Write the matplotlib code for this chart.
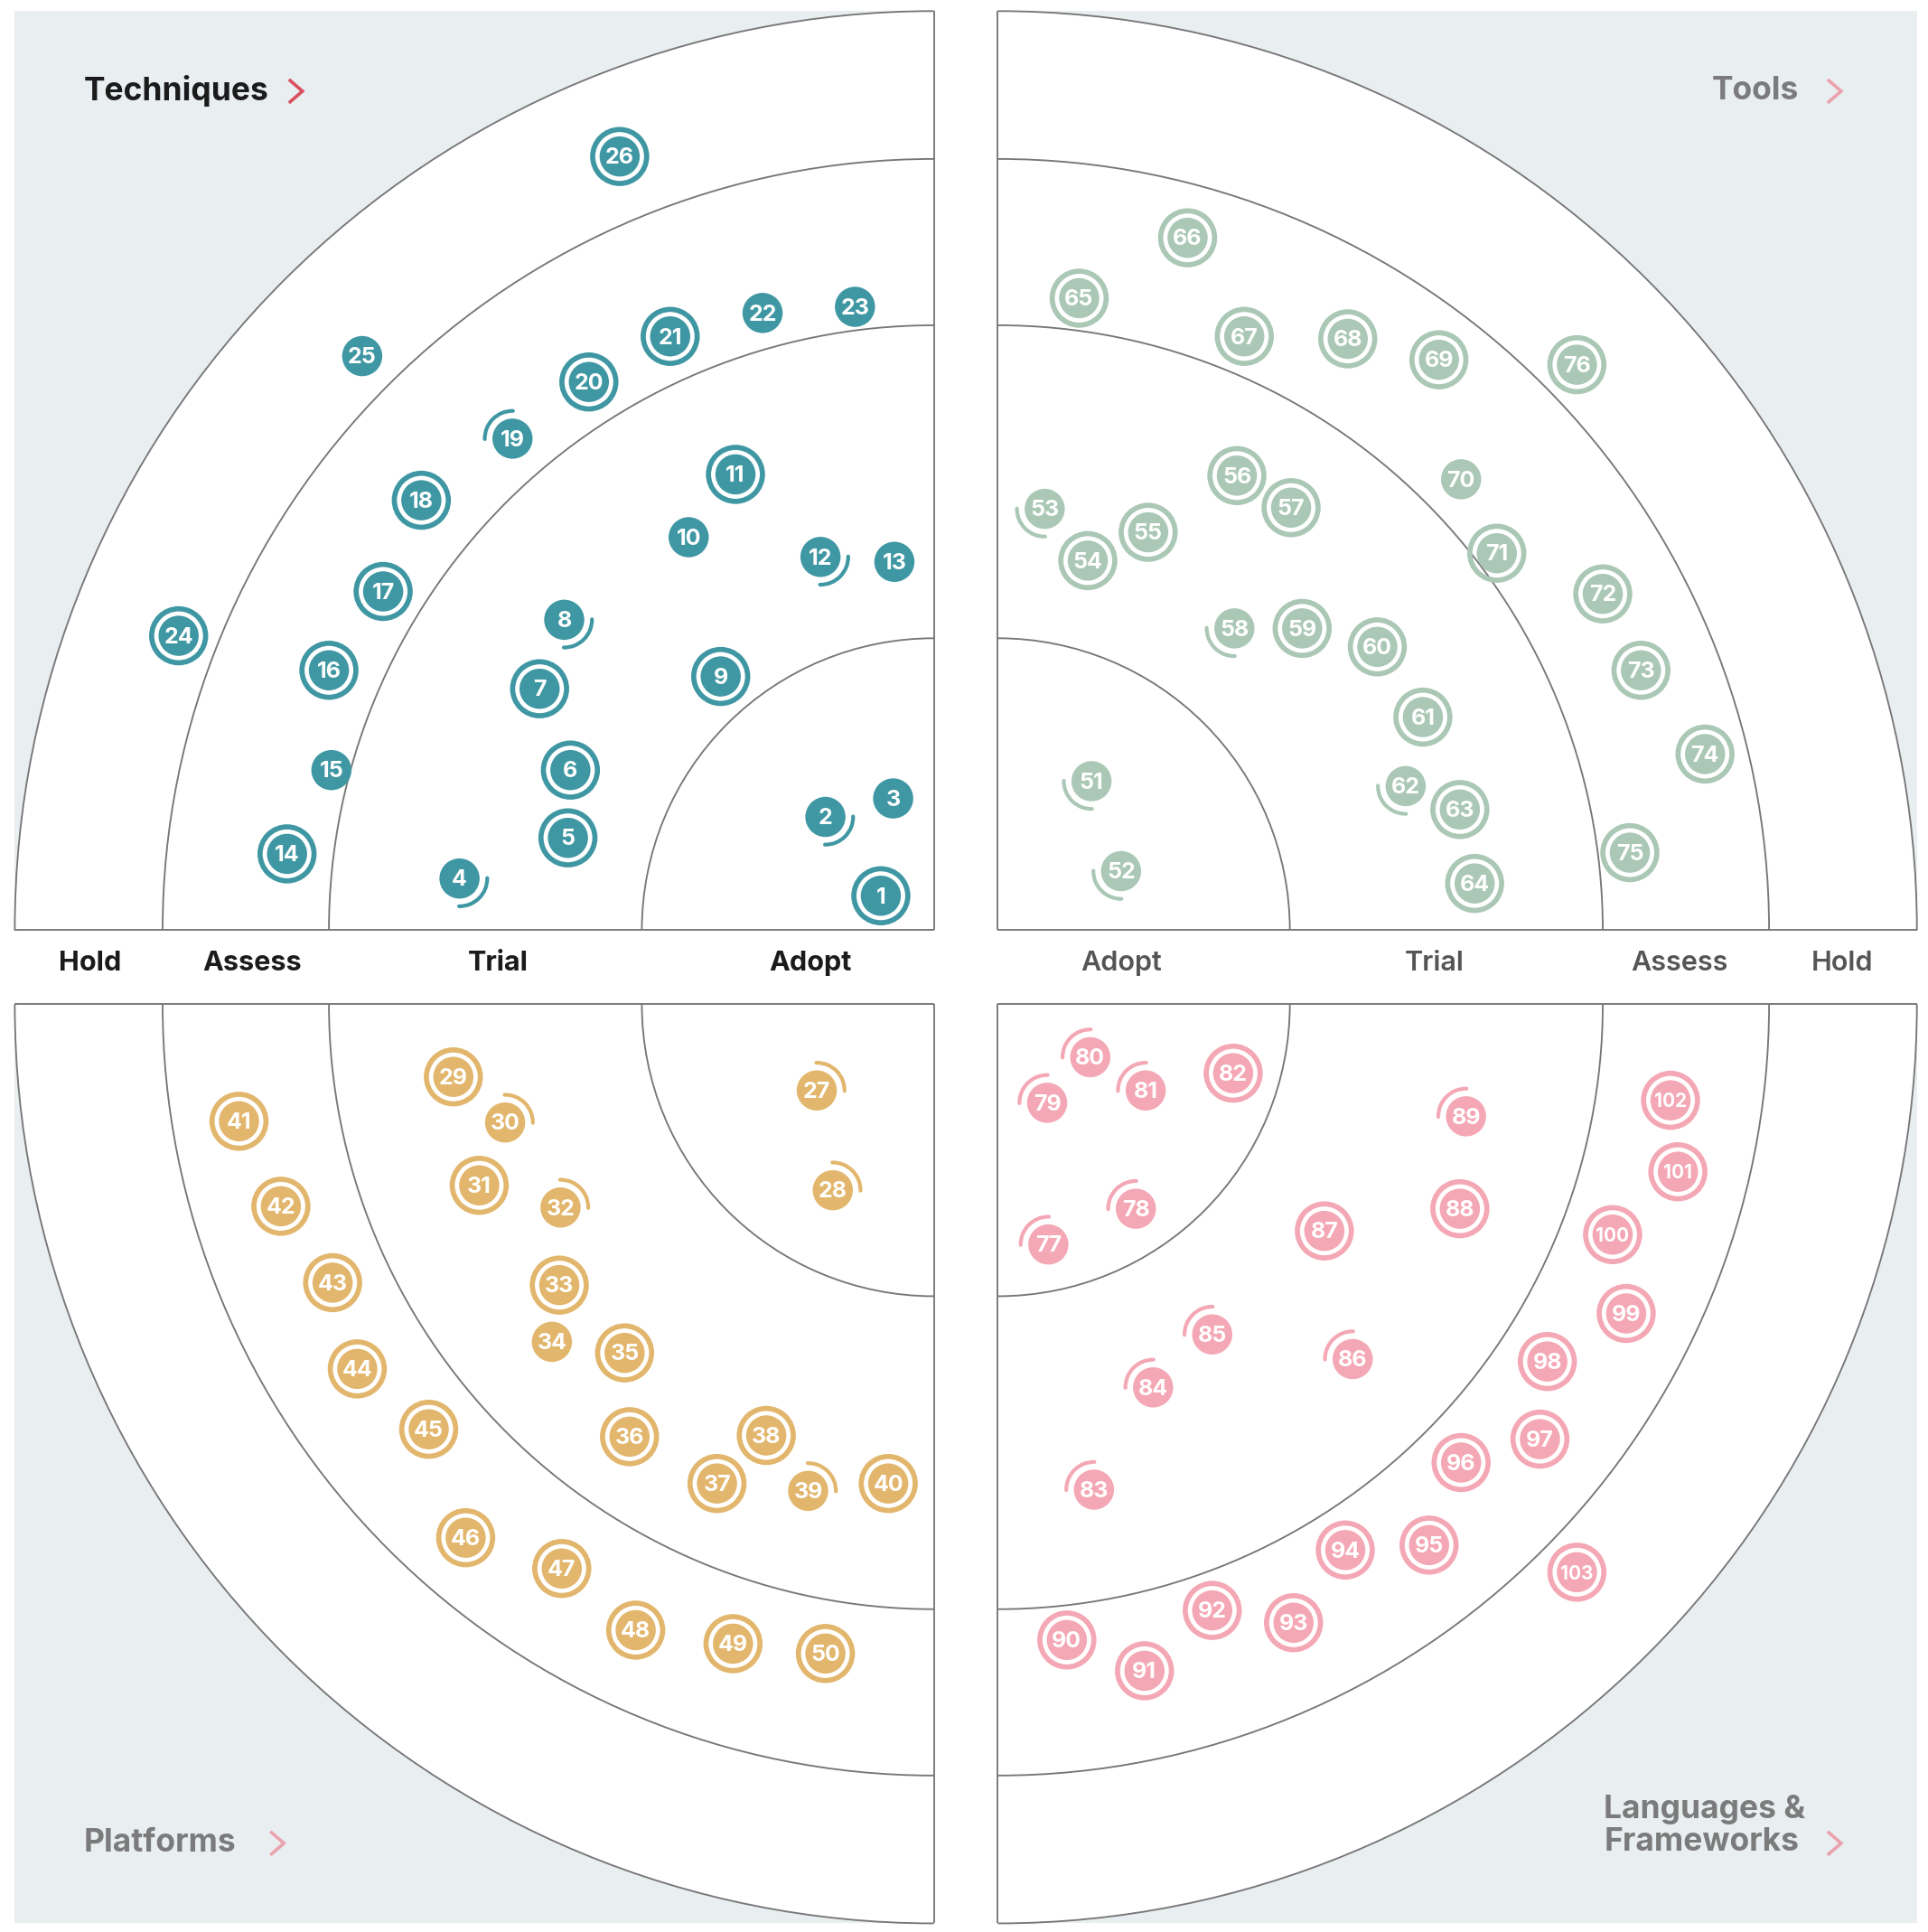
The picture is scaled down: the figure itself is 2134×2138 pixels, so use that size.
import numpy as np
import matplotlib.pyplot as plt
from matplotlib.patches import Rectangle, Wedge, Arc, Circle

plt.rcParams['font.family'] = ['Inter', 'DejaVu Sans']

# ring names and their outer radii (same units as the blip positions below)
rings = ['Adopt', 'Trial', 'Assess', 'Hold']
ring_r = [237, 491, 626, 746]
ring_label_r = [100, 354, 553, 685]

# blips: number, x, y, status (N = new, I = moved in, O = moved out, - = no change)
tech_num = list(range(1, 27))
tech_x = [715, 670, 725, 373, 461, 463, 438, 458, 585, 559, 597, 666, 726,
          233, 269, 267, 311, 342, 416, 478, 544, 619, 694, 145, 294, 503]
tech_y = [727, 663, 648, 713, 680, 625, 559, 503, 549, 436, 385, 452, 456,
          693, 625, 544, 480, 406, 356, 310, 273, 254, 249, 516, 289, 127]
tech_status = ['N', 'I', '-', 'I', 'N', 'N', 'N', 'I', 'N', '-', 'N', 'I', '-',
               'N', '-', 'N', 'N', 'N', 'O', 'N', 'N', '-', '-', 'N', '-', 'N']

plat_num = list(range(27, 51))
plat_x = [663, 676, 368, 410, 389, 455, 454, 448, 507, 511, 582, 622, 656, 721,
          194, 228, 270, 290, 348, 378, 456, 516, 595, 670]
plat_y = [885, 966, 874, 911, 962, 980, 1043, 1089, 1098, 1166, 1204, 1165, 1210, 1204,
          910, 979, 1041, 1111, 1160, 1248, 1273, 1323, 1334, 1342]
plat_status = ['I', 'I', 'N', 'I', 'N', 'I', 'N', '-', 'N', 'N', 'N', 'N', 'I', 'N',
               'N', 'N', 'N', 'N', 'N', 'N', 'N', 'N', 'N', 'N']

tool_num = list(range(51, 77))
tool_x = [886, 910, 848, 883, 932, 1004, 1048, 1002, 1057, 1118, 1155, 1141, 1185,
          1197, 876, 964, 1010, 1094, 1168, 1186, 1215, 1301, 1332, 1384, 1323, 1280]
tool_y = [634, 707, 413, 455, 432, 386, 412, 510, 510, 525, 582, 638, 657,
          717, 242, 193, 273, 275, 292, 389, 449, 482, 544, 612, 692, 296]
tool_status = ['I', 'I', 'I', 'N', 'N', 'N', 'N', 'I', 'N', 'N', 'N', 'I', 'N',
               'N', 'N', 'N', 'N', 'N', 'N', '-', 'N', 'N', 'N', 'N', 'N', 'N']

lang_num = list(range(77, 104))
lang_x = [851, 922, 850, 885, 930, 1001, 888, 936, 984, 1098, 1075, 1185, 1190,
          866, 929, 984, 1050, 1092, 1160, 1186, 1250, 1256, 1320, 1309, 1362, 1356, 1280]
lang_y = [1010, 981, 895, 858, 885, 871, 1209, 1126, 1083, 1103, 999, 981, 906,
          1331, 1356, 1307, 1317, 1258, 1254, 1187, 1168, 1105, 1066, 1002, 951, 893, 1276]
lang_status = ['I', 'I', 'I', 'I', 'I', 'N', 'I', 'I', 'I', 'I', 'N', 'N', 'I',
               'N', 'N', 'N', 'N', 'N', 'N', 'N', 'N', 'N', 'N', 'N', 'N', 'N', 'N']

BG = '#e9eef1'
LINE = '#777777'

fig = plt.figure(figsize=(21.34, 21.38), dpi=100)
fig.patch.set_facecolor('white')
ax = fig.add_axes([0, 0, 1, 1])
ax.set_xlim(0, 1565)
ax.set_ylim(1568, 0)
ax.axis('off')

R = ring_r[-1]
# centre x, centre y, x sign, y sign, wedge start angle
quads = {
    'tech': (758, 755, -1, -1, 180),
    'tool': (810, 755, 1, -1, 270),
    'plat': (758, 815, -1, 1, 90),
    'lang': (810, 815, 1, 1, 0),
}

for cx, cy, sx, sy, a0 in quads.values():
    ax.add_patch(Rectangle((min(cx, cx + sx * R), min(cy, cy + sy * R)), R, R,
                           facecolor=BG, edgecolor='none', zorder=0))
    ax.add_patch(Wedge((cx, cy), R, a0, a0 + 90, facecolor='white',
                       edgecolor='none', zorder=1))
    for r in ring_r:
        ax.add_patch(Arc((cx, cy), 2 * r, 2 * r, theta1=a0, theta2=a0 + 90,
                         color=LINE, lw=1.35, zorder=2))
    ax.plot([cx, cx + sx * R], [cy, cy], color=LINE, lw=1.35, zorder=2,
            solid_capstyle='butt')
    ax.plot([cx, cx], [cy, cy + sy * R], color=LINE, lw=1.35, zorder=2,
            solid_capstyle='butt')


def draw_blips(key, nums, xs, ys, status, color):
    cx, cy, sx, sy, a0 = quads[key]
    inward = (a0 + 180 + 45) % 360
    for n, x, y, s in zip(nums, xs, ys, status):
        ax.add_patch(Circle((x, y), 16.3, facecolor=color, edgecolor='none', zorder=4))
        if s == 'N':
            ax.add_patch(Circle((x, y), 21.9, facecolor='none', edgecolor=color,
                                lw=4.1, zorder=4))
        elif s in ('I', 'O'):
            mid = inward if s == 'I' else inward + 180
            ax.add_patch(Arc((x, y), 45, 45, theta1=mid - 46, theta2=mid + 46,
                             color=color, lw=3, capstyle='round', zorder=4))
        fs = 15 if n >= 100 else 18
        ax.text(x, y + 1.3, str(n), color='white', fontsize=fs, fontweight='bold',
                ha='center', va='center', zorder=5)


draw_blips('tech', tech_num, tech_x, tech_y, tech_status, '#3f97a3')
draw_blips('tool', tool_num, tool_x, tool_y, tool_status, '#aac8b5')
draw_blips('plat', plat_num, plat_x, plat_y, plat_status, '#e2b66c')
draw_blips('lang', lang_num, lang_x, lang_y, lang_status, '#f4a7b4')

# ring names in the band between the quadrants
band_y = 782
for name, lr in zip(rings, ring_label_r):
    ax.text(758 - lr, band_y, name, fontsize=22, fontweight='bold', color='#1b1b1b',
            ha='center', va='center')
    ax.text(810 + lr, band_y, name, fontsize=22, fontweight='semibold', color='#555555',
            ha='center', va='center')


def chevron(x, y, color):
    ax.plot([x - 5.5, x + 5.5, x - 5.5], [y - 9.5, y, y + 9.5], color=color,
            lw=2.6, solid_joinstyle='miter', solid_capstyle='butt', zorder=3)


ax.text(68, 74, 'Techniques', fontsize=25.5, fontweight='bold', color='#1b1b1b',
        ha='left', va='center')
chevron(240, 74, '#d9505f')
ax.text(1460, 74, 'Tools', fontsize=25.5, fontweight='bold', color='#7b7b7b',
        ha='right', va='center')
chevron(1489, 74, '#eaa2ac')
ax.text(68, 1496, 'Platforms', fontsize=25.5, fontweight='bold', color='#7b7b7b',
        ha='left', va='center')
chevron(225, 1496, '#eaa2ac')
ax.text(1302, 1482, 'Languages &\nFrameworks', fontsize=25.5, fontweight='bold',
        color='#7b7b7b', ha='left', va='center', linespacing=1.12)
chevron(1489, 1496, '#eaa2ac')

fig.savefig('out.png', dpi=100, facecolor=fig.get_facecolor())
